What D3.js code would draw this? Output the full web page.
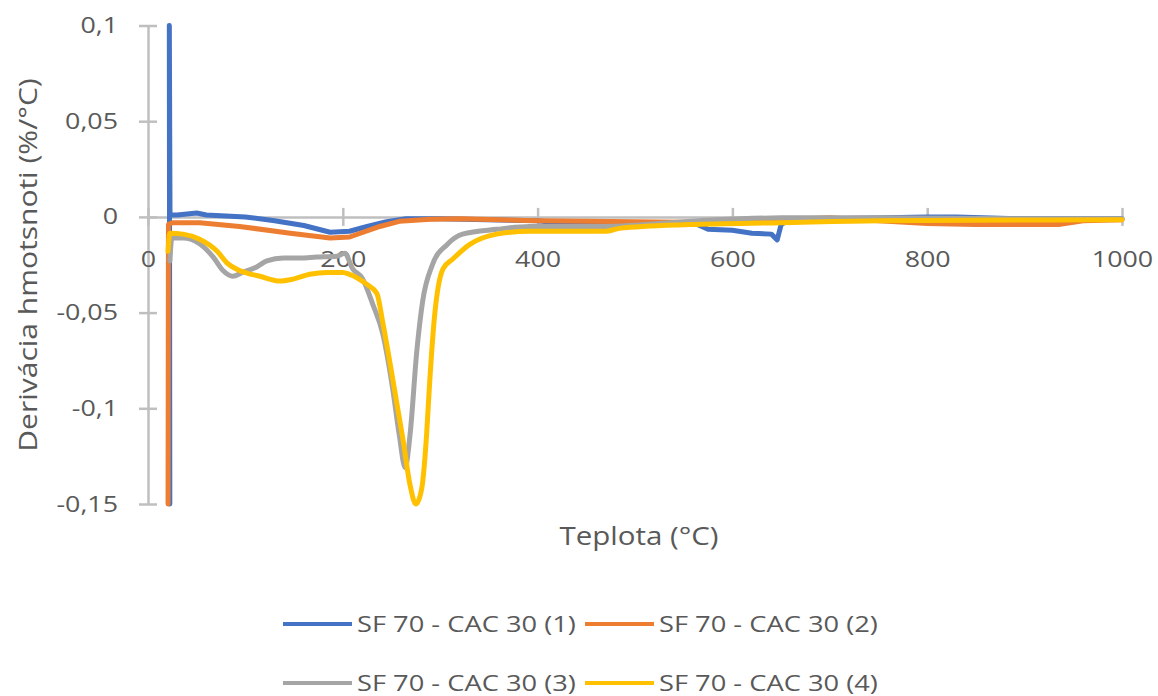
<!DOCTYPE html>
<html><head><meta charset="utf-8">
<script src="https://cdn.jsdelivr.net/npm/d3@7"></script>
<style>body{margin:0;background:#fff;} svg{display:block;font-family:"Open Sans",sans-serif;}</style>
</head><body>
<svg id="c" width="1158" height="696"></svg>
<script>
const seriesNames = ["SF 70 - CAC 30 (1)","SF 70 - CAC 30 (2)","SF 70 - CAC 30 (3)","SF 70 - CAC 30 (4)"];
const colors = ["#4472C4","#ED7D31","#A5A5A5","#FFC000"];
const xTicks = [0,200,400,600,800,1000];
const yTicks = [0.1,0.05,0,-0.05,-0.1,-0.15];

const s1T = [22.4,21.9,22.6,30,40,50,60,80,100,130,160,187,207,225,245,265,300,400,436,460,500,560,575,600,620,640,646,650,660,700,800,830,900,1000];
const s1V = [-0.15,0.1,0.001,0.001,0.0015,0.002,0.001,0.0005,0,-0.002,-0.0045,-0.008,-0.0075,-0.005,-0.0025,-0.001,-0.001,-0.002,-0.004,-0.004,-0.003,-0.003,-0.0065,-0.007,-0.0085,-0.009,-0.012,-0.004,-0.001,-0.001,0,0,-0.001,-0.001];

const s2T = [20.6,21,25,53,94,146,187,207,238,258,290,320,400,500,600,650,700,750,800,850,900,935,960,1000];
const s2V = [-0.15,-0.004,-0.003,-0.003,-0.005,-0.0085,-0.011,-0.0105,-0.005,-0.0023,-0.0012,-0.001,-0.002,-0.0025,-0.003,-0.0015,-0.0005,-0.002,-0.0035,-0.004,-0.004,-0.004,-0.002,-0.0015];

const s3T = [22.5,24.5,36,53,67,77,87,97,112,122,139,156,173,194,202,210,220,231,241,251,258,264,269,276,282,292,307,323,358,392,470,566,650,750,900,1000];
const s3V = [-0.023,-0.011,-0.011,-0.014,-0.021,-0.028,-0.031,-0.029,-0.026,-0.023,-0.0215,-0.0215,-0.021,-0.0205,-0.019,-0.027,-0.032,-0.046,-0.061,-0.089,-0.114,-0.131,-0.114,-0.07,-0.044,-0.025,-0.0145,-0.009,-0.0065,-0.005,-0.005,-0.002,-0.0005,-0.0005,-0.001,-0.001];

const s4T = [20.5,22.5,36,53,71,81,94,115,135,149,166,184,200,207,224,235,241,248,255,262,269,275,281,286,289,294,303,313,330,358,392,470,484,556,650,750,1000];
const s4V = [-0.018,-0.0085,-0.009,-0.0117,-0.018,-0.024,-0.028,-0.031,-0.0335,-0.0325,-0.03,-0.029,-0.029,-0.03,-0.035,-0.04,-0.055,-0.075,-0.096,-0.117,-0.14,-0.15,-0.142,-0.114,-0.088,-0.053,-0.027,-0.022,-0.0145,-0.009,-0.0075,-0.0075,-0.006,-0.004,-0.003,-0.002,-0.0015];

const seriesT = [s1T,s2T,s3T,s4T];
const seriesV = [s1V,s2V,s3V,s4V];

const svg = d3.select("#c");
const x = d3.scaleLinear().domain([0,1000]).range([148,1122]);
const y = d3.scaleLinear().domain([-0.15,0.1]).range([504,25.5]);
const txt = "#595959", axc = "#BFBFBF";
const SX = 1.22;
const fmt = v => String(+v.toFixed(2)).replace(".", ",");

// y axis
const ya = svg.append("g").attr("transform","translate("+x(0)+",0)")
  .call(d3.axisLeft(y).tickValues(yTicks).tickSize(0).tickFormat(fmt));
ya.select(".domain").attr("stroke",axc).attr("stroke-width",2.5);
ya.selectAll(".tick text").attr("x",0).attr("dy","0.32em")
  .attr("transform","translate(-30,0) scale("+SX+",1)")
  .attr("fill",txt).style("font-size","22px").style("font-family","Open Sans");
ya.selectAll(".tick").append("line").attr("x1",-9).attr("x2",9).attr("stroke",axc).attr("stroke-width",2.5);

// x axis at y=0
const xa = svg.append("g").attr("transform","translate(0,"+y(0)+")")
  .call(d3.axisBottom(x).tickValues(xTicks).tickSize(0).tickFormat(d3.format("d")));
xa.select(".domain").attr("stroke",axc).attr("stroke-width",2.5);
xa.selectAll(".tick text").attr("y",0).attr("dy",0)
  .attr("transform","translate(0,50) scale("+SX+",1)")
  .attr("fill",txt).style("font-size","22px").style("font-family","Open Sans");
xa.selectAll(".tick").append("line").attr("y1",-9).attr("y2",9).attr("stroke",axc).attr("stroke-width",2.5);

// series
const line = d3.line().x(d=>x(d[0])).y(d=>y(d[1])).curve(d3.curveMonotoneX);
const lineRaw = d3.line().x(d=>x(d[0])).y(d=>y(d[1]));
seriesT.forEach((T,i)=>{
  const pts = T.map((t,j)=>[t,seriesV[i][j]]);
  svg.append("path").attr("d", (i<2? lineRaw: line)(pts)).attr("fill","none")
    .attr("stroke",colors[i]).attr("stroke-width",5).attr("stroke-linejoin","round").attr("stroke-linecap","round");
});

// axis titles
svg.append("text").attr("transform","translate(639,545) scale(1.18,1)").attr("text-anchor","middle").attr("fill",txt)
  .style("font-size","25px").text("Teplota (°C)");
svg.append("text").attr("transform","translate(37,265) rotate(-90) scale(1.2,1)").attr("text-anchor","middle").attr("fill",txt)
  .style("font-size","25px").text("Derivácia hmotsnoti (%/°C)");

// legend
const legPos = [[283,624],[585,624],[283,683],[585,683]];
seriesNames.forEach((n,i)=>{
  const [lx,ly] = legPos[i];
  svg.append("line").attr("x1",lx).attr("x2",lx+69).attr("y1",ly).attr("y2",ly).attr("stroke",colors[i]).attr("stroke-width",4);
  svg.append("text").attr("transform","translate("+(lx+74)+","+(ly+8)+") scale(1.24,1)").attr("fill",txt).style("font-size","22px").text(n);
});
</script>
</body></html>
